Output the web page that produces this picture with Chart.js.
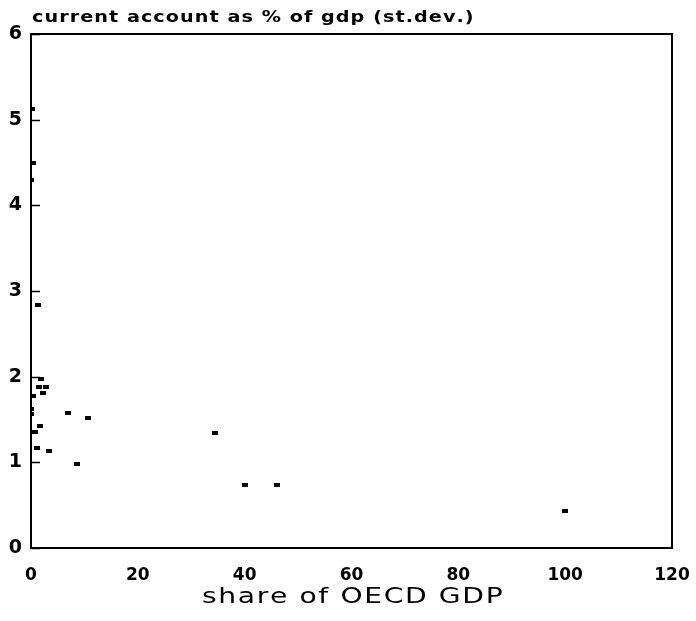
<!DOCTYPE html>
<html>
<head>
<meta charset="utf-8">
<script src="https://cdn.jsdelivr.net/npm/chart.js@4/dist/chart.umd.min.js"></script>
<style>
  html, body { margin: 0; padding: 0; background: #fff; }
  #wrap { width: 696px; height: 621px; }
</style>
</head>
<body>
<div id="wrap"><canvas id="Diagram1" width="696" height="621"></canvas></div>
<script>
// share of OECD GDP (x) vs st.dev. of current account as % of gdp (y)
var shareGdp = [0.2, 0.4, 0, 1.3, 1.9, 1.5, 2.8, 0.4, 2.2, 0, 0, 6.9, 10.7, 1.7, 0.75, 1.1, 3.4, 8.6, 34.4, 40.1, 46.1, 100];
var caStdev  = [5.12, 4.5, 4.29, 2.84, 1.97, 1.88, 1.88, 1.78, 1.81, 1.62, 1.56, 1.58, 1.52, 1.42, 1.35, 1.17, 1.13, 0.98, 1.34, 0.73, 0.73, 0.43];
var xTicks = [0, 20, 40, 60, 80, 100, 120];
var yTicks = [0, 1, 2, 3, 4, 5, 6];
var yTitle = 'current account as % of gdp (st.dev.)';
var xTitle = 'share of OECD GDP';

var points = [];
for (var i = 0; i < shareGdp.length; i++) {
    points.push({ x: shareGdp[i], y: caStdev[i] });
}

// little dash used as the marker
var mark = document.createElement('canvas');
mark.width = 6; mark.height = 4;
var mctx = mark.getContext('2d');
mctx.fillStyle = '#000';
mctx.fillRect(0, 0, 6, 4);

// old plotter lettering is wide: stretch the glyphs, then spread them over a given width
function wideText(c, txt, x, y, w, stretch) {
    var natural = c.measureText(txt).width * stretch;
    var gap = (w - natural) / (txt.length - 1);
    var px = 0;
    c.save();
    c.translate(x, y);
    c.scale(stretch, 1);
    for (var k = 0; k < txt.length; k++) {
        c.fillText(txt[k], px / stretch, 0);
        px += c.measureText(txt[k]).width * stretch + gap;
    }
    c.restore();
}

var frame = {
    id: 'frame',
    afterDraw: function(chart) {
        var c = chart.ctx, a = chart.chartArea, ys = chart.scales.y;
        c.save();
        c.strokeStyle = '#000';
        c.lineWidth = 2;
        c.strokeRect(a.left, a.top, a.right - a.left, a.bottom - a.top);
        c.lineWidth = 1.5;
        yTicks.forEach(function(v) {
            var py = Math.round(ys.getPixelForValue(v)) + 0.5;
            c.beginPath();
            c.moveTo(a.left, py);
            c.lineTo(a.left + 9, py);
            c.stroke();
        });
        c.fillStyle = '#000';
        c.textBaseline = 'alphabetic';
        c.textAlign = 'left';
        c.font = 'bold 16px "DejaVu Sans"';
        wideText(c, yTitle, 32, 22, 440, 1.2);
        c.font = '22px "DejaVu Sans"';
        wideText(c, xTitle, 202, 603, 300, 1.28);
        c.restore();
    }
};

var ctx1 = document.getElementById('Diagram1').getContext('2d');
var ScatterChart1 = new Chart(ctx1, {
    type: 'scatter',
    data: {
        datasets: [{
            data: points,
            pointStyle: mark,
            backgroundColor: '#000',
            borderColor: '#000'
        }]
    },
    options: {
        responsive: false,
        animation: false,
        layout: { padding: { top: 34, right: 24, left: 0, bottom: 0 } },
        plugins: {
            legend: { display: false },
            tooltip: { enabled: false }
        },
        scales: {
            x: {
                type: 'linear',
                min: 0, max: 120,
                afterFit: function(s) { s.height = 73; s.paddingLeft = 0; s.paddingRight = 0; },
                afterBuildTicks: function(s) { s.ticks = xTicks.map(function(v) { return { value: v }; }); },
                grid: { display: false, drawTicks: false },
                border: { display: false },
                ticks: { color: '#000', padding: 17, font: { family: 'DejaVu Sans', weight: 'bold', size: 17 } }
            },
            y: {
                type: 'linear',
                min: 0, max: 6,
                afterFit: function(s) { s.width = 31; s.paddingTop = 0; s.paddingBottom = 0; },
                afterBuildTicks: function(s) { s.ticks = yTicks.map(function(v) { return { value: v }; }); },
                grid: { display: false, drawTicks: false },
                border: { display: false },
                ticks: { color: '#000', padding: 9, font: { family: 'DejaVu Sans', weight: 'bold', size: 19 } }
            }
        }
    },
    plugins: [frame]
});
</script>
</body>
</html>
